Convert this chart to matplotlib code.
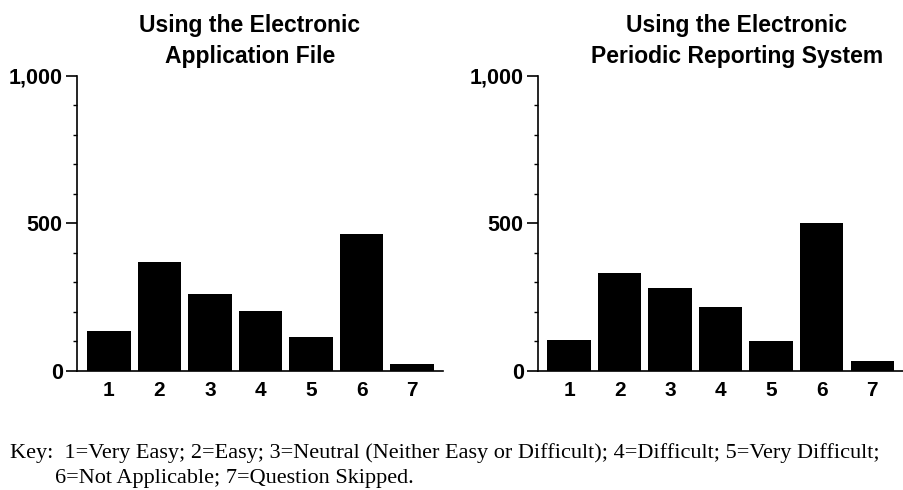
import matplotlib.pyplot as plt
from matplotlib.ticker import MultipleLocator, FuncFormatter

categories = [1, 2, 3, 4, 5, 6, 7]
application_file = [134, 368, 261, 202, 116, 463, 23]
periodic_reporting = [104, 332, 281, 218, 100, 501, 34]
titles = [["Using the Electronic", "Application File"],
          ["Using the Electronic", "Periodic Reporting System"]]
key_line1 = ("Key:  1=Very Easy; 2=Easy; 3=Neutral (Neither Easy or Difficult); "
             "4=Difficult; 5=Very Difficult;")
key_line2 = "6=Not Applicable; 7=Question Skipped."

plt.rcParams["font.family"] = ["Liberation Sans", "DejaVu Sans"]


def draw_panel(ax, values, xleft):
    ax.bar(categories, values, width=0.86, color="black")
    ax.set_xlim(xleft, 7.61)
    ax.set_ylim(0, 1000)
    ax.spines["top"].set_visible(False)
    ax.spines["right"].set_visible(False)
    ax.spines["left"].set_linewidth(1.2)
    ax.spines["bottom"].set_linewidth(1.2)
    ax.yaxis.set_major_locator(MultipleLocator(500))
    ax.yaxis.set_minor_locator(MultipleLocator(100))
    ax.yaxis.set_major_formatter(FuncFormatter(lambda v, p: f"{int(v):,}"))
    ax.tick_params(axis="y", which="major", length=8, width=1.2, pad=2,
                   labelsize=15.5)
    ax.tick_params(axis="y", which="minor", length=3, width=1)
    ax.set_xticks(categories)
    ax.tick_params(axis="x", length=0, pad=7, labelsize=15)
    for lbl in ax.get_xticklabels() + ax.get_yticklabels():
        lbl.set_fontweight("bold")


def main():
    fig = plt.figure(figsize=(9.04, 4.9), dpi=100)
    ax1 = fig.add_axes([0.0848, 0.2429, 0.4052, 0.6026])
    ax2 = fig.add_axes([0.5948, 0.2429, 0.4042, 0.6026])

    draw_panel(ax1, application_file, 0.36)
    draw_panel(ax2, periodic_reporting, 0.38)

    for cx, lines in zip([250, 737], titles):
        for line, base in zip(lines, [32, 63]):
            fig.text(cx / 904, 1 - base / 490, line, fontsize=16.5,
                     fontweight="bold", ha="center", va="baseline")

    fig.text(10 / 904, 1 - 458 / 490, key_line1, family="Liberation Serif",
             fontsize=16, va="baseline")
    fig.text(55 / 904, 1 - 483 / 490, key_line2, family="Liberation Serif",
             fontsize=16, va="baseline")

    plt.savefig("out.png", dpi=100)


if __name__ == "__main__":
    main()
